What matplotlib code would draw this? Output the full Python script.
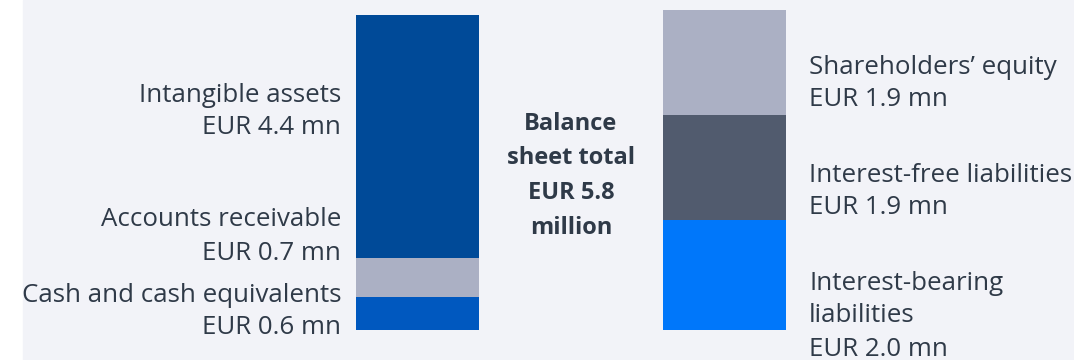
import matplotlib.pyplot as plt
from matplotlib.patches import Rectangle

# balance sheet, EUR million
assets = ["Cash and cash equivalents", "Accounts receivable", "Intangible assets"]
asset_values = [0.6, 0.7, 4.4]
asset_colors = ["#0058bf", "#abb0c4", "#004a98"]

liabilities = ["Interest-bearing\nliabilities", "Interest-free liabilities", "Shareholders\u2019 equity"]
liability_values = [2.0, 1.9, 1.9]
liability_colors = ["#0077fa", "#515b6e", "#abb0c4"]

total = 5.8

bg = "#f2f3f8"
txt = "#2f3a48"
plt.rcParams['font.family'] = ['Open Sans', 'DejaVu Sans']

fig = plt.figure(figsize=(10.74, 3.6), dpi=100)
fig.patch.set_facecolor("white")

# pixel overlay for background and labels
ov = fig.add_axes([0, 0, 1, 1])
ov.set_xlim(0, 1074)
ov.set_ylim(360, 0)
ov.axis("off")
ov.add_patch(Rectangle((23, 0), 1051, 360, color=bg, zorder=0))

# bars in data units, baseline at pixel row 330
scale = 55.2  # px per EUR mn
ax = fig.add_axes([0, 0, 1, 1])
ax.set_xlim(0, 1074)
ax.set_ylim(-30 / scale, 330 / scale)
ax.axis("off")
ax.patch.set_alpha(0)

def stack(x, values, colors):
    bottom = 0
    for v, c in zip(values, colors):
        ax.bar(x, v, width=123, bottom=bottom, color=c, linewidth=0)
        bottom += v

stack(417.5, asset_values, asset_colors)
stack(724.5, liability_values, liability_colors)

fs = 18.6
# left side labels (right aligned)
left_y = [295, 220, 95]
for name, v, y in zip(assets, asset_values, left_y):
    ov.text(341, y, name, ha="right", va="center", fontsize=fs, color=txt)
    ov.text(341, y + 33, f"EUR {v:.1f} mn", ha="right", va="center", fontsize=fs, color=txt)

# right side labels (left aligned)
right_y = [283, 175, 67]
for name, v, y in zip(liabilities, liability_values, right_y):
    lines = name.split("\n") + [f"EUR {v:.1f} mn"]
    for i, line in enumerate(lines):
        ov.text(809, y + i * 33, line, ha="left", va="center", fontsize=fs, color=txt)

# centre caption
for i, line in enumerate(["Balance", "sheet total", f"EUR {total:.1f}", "million"]):
    ov.text(571, 124 + i * 34.5, line, ha="center", va="center",
            fontsize=17, fontweight="bold", color=txt)

fig.savefig("out.png", dpi=100, facecolor=fig.get_facecolor())
